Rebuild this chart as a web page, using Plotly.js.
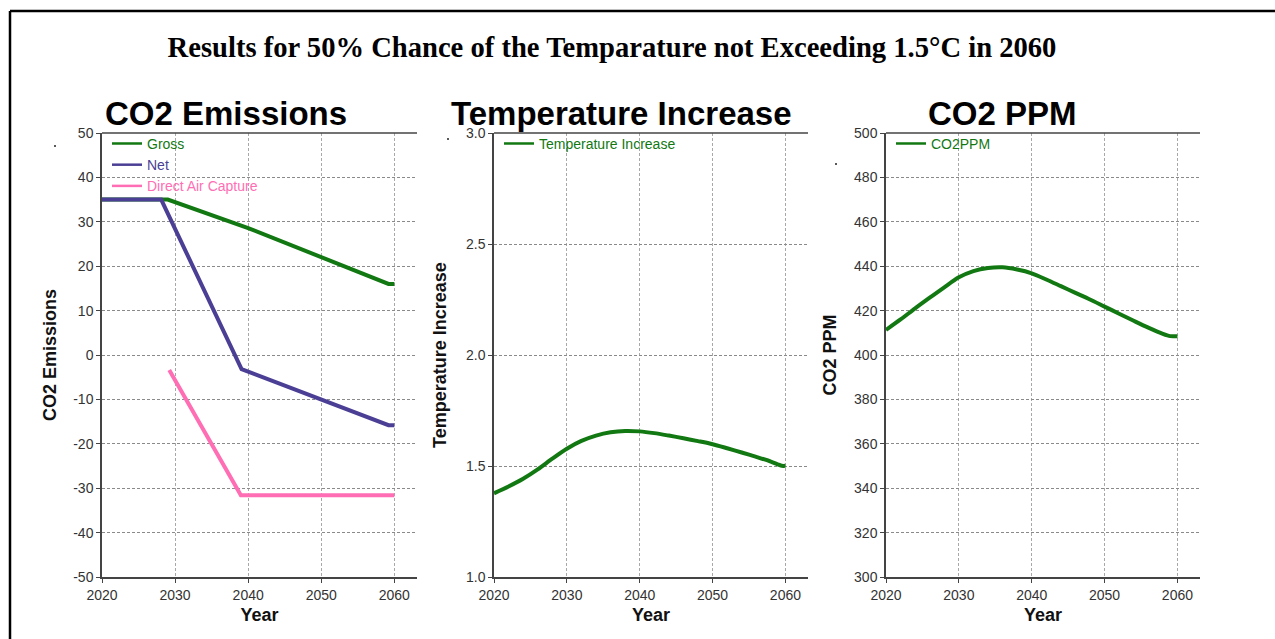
<!DOCTYPE html>
<html>
<head>
<meta charset="utf-8">
<script src="https://cdn.plot.ly/plotly-3.0.1.min.js"></script>
<style>html,body{margin:0;padding:0;background:#fff;}#chart{width:1275px;height:639px;}</style>
</head>
<body>
<div id="chart"></div>
<script>
// ---- Data ----
const mainTitle = "Results for 50% Chance of the Temparature not Exceeding 1.5°C in 2060";
const panelTitles = ["CO2 Emissions", "Temperature Increase", "CO2 PPM"];
const yAxisTitles = ["CO2 Emissions", "Temperature Increase", "CO2 PPM"];
const xAxisTitle = "Year";
const xTickValues = [2020, 2030, 2040, 2050, 2060];
const xTickLabels = ["2020", "2030", "2040", "2050", "2060"];

const grossYears  = [2020, 2029, 2040, 2059.2, 2060];
const grossValues = [35, 35, 28.6, 16, 16];
const netYears    = [2020, 2028.1, 2039.1, 2059.2, 2060];
const netValues   = [35, 35, -3.2, -15.8, -15.8];
const dacYears    = [2029.2, 2039, 2060];
const dacValues   = [-3.4, -31.6, -31.6];

const tempYears  = [2020, 2022, 2024, 2026, 2028, 2030, 2032, 2034, 2036, 2038, 2040, 2042, 2044, 2046, 2048, 2050, 2052, 2054, 2056, 2058, 2059.5, 2060];
const tempValues = [1.377, 1.408, 1.443, 1.485, 1.533, 1.578, 1.613, 1.637, 1.652, 1.658, 1.656, 1.648, 1.637, 1.625, 1.612, 1.598, 1.58, 1.561, 1.541, 1.52, 1.501, 1.501];

const ppmYears  = [2020, 2022, 2024, 2026, 2028, 2030, 2032, 2034, 2036, 2038, 2040, 2042, 2044, 2046, 2048, 2050, 2052, 2054, 2056, 2058, 2059, 2060];
const ppmValues = [411.3, 416, 421, 425.8, 430.5, 435, 437.8, 439.2, 439.5, 438.5, 436.8, 434, 431, 428, 425, 421.8, 418.6, 415.4, 412.3, 409.5, 408.5, 408.5];

const seriesNames = ["Gross", "Net", "Direct Air Capture", "Temperature Increase", "CO2PPM"];
const emisTicks = [-50, -40, -30, -20, -10, 0, 10, 20, 30, 40, 50];
const emisTickLabels = ["-50", "-40", "-30", "-20", "-10", "0", "10", "20", "30", "40", "50"];
const tempTicks = [1.0, 1.5, 2.0, 2.5, 3.0];
const tempTickLabels = ["1.0", "1.5", "2.0", "2.5", "3.0"];
const ppmTicks  = [300, 320, 340, 360, 380, 400, 420, 440, 460, 480, 500];
const ppmTickLabels = ["300", "320", "340", "360", "380", "400", "420", "440", "460", "480", "500"];

// ---- Styling ----
const GREEN = "#127812", PURPLE = "#4a3f94", PINK = "#ff6eb4";
const W = 1275, H = 639;
const px = v => v / W, py = v => 1 - v / H;
const FONT = "Arial, 'Liberation Sans', sans-serif";

function line(x, y, color, xa, ya, shape) {
  return {x: x, y: y, type: "scatter", mode: "lines", xaxis: xa, yaxis: ya,
          line: {color: color, width: 4, shape: shape || "linear", smoothing: 0.8},
          showlegend: false, hoverinfo: "x+y"};
}
function legendItem(name, color, xa, ya, leg) {
  return {x: [null], y: [null], type: "scatter", mode: "lines", xaxis: xa, yaxis: ya,
          name: '<span style="color:' + color + '">' + name + '</span>',
          line: {color: color, width: 2.5}, showlegend: true, legend: leg};
}

const traces = [
  line(grossYears, grossValues, GREEN, "x", "y"),
  line(netYears, netValues, PURPLE, "x", "y"),
  line(dacYears, dacValues, PINK, "x", "y"),
  line(tempYears, tempValues, GREEN, "x2", "y2", "spline"),
  line(ppmYears, ppmValues, GREEN, "x3", "y3", "spline"),
  legendItem(seriesNames[0], GREEN, "x", "y", "legend"),
  legendItem(seriesNames[1], PURPLE, "x", "y", "legend"),
  legendItem(seriesNames[2], PINK, "x", "y", "legend"),
  legendItem(seriesNames[3], GREEN, "x2", "y2", "legend2"),
  legendItem(seriesNames[4], GREEN, "x3", "y3", "legend3")
];

const domainsX = [[px(102), px(417)], [px(494), px(808)], [px(886), px(1200)]];
const domainY = [py(577), py(133)];
const xRange = [2020, 2063.1];
const TICKFONT = {family: FONT, size: 14, color: "#333"};
const TITLEFONT = {family: FONT, size: 18, color: "#111", weight: "bold"};

function xaxis(i, anchor) {
  return {domain: domainsX[i], anchor: anchor, range: xRange, tickvals: xTickValues, ticktext: xTickLabels,
    showline: true, linecolor: "#444", linewidth: 1.5, ticks: "outside", ticklen: 4, tickcolor: "#444",
    showgrid: true, gridcolor: "#a8a8a8", griddash: "3px,2px", gridwidth: 1, zeroline: false,
    tickfont: TICKFONT, title: {text: xAxisTitle, font: TITLEFONT, standoff: 7}};
}
function yaxis(i, anchor, range, ticks, labels, standoff) {
  return {domain: domainY, anchor: anchor, range: range, tickvals: ticks, ticktext: labels,
    showline: true, linecolor: "#444", linewidth: 1.5, ticks: "outside", ticklen: 4, tickcolor: "#444",
    showgrid: true, gridcolor: "#8a8a8a", griddash: "3px,2px", gridwidth: 1, zeroline: false,
    tickfont: TICKFONT, title: {text: yAxisTitles[i], font: TITLEFONT, standoff: standoff}};
}

function legendCfg(i) {
  return {x: domainsX[i][0] + px(5), y: domainY[1] + 0.008, xanchor: "left", yanchor: "top",
    bgcolor: "rgba(0,0,0,0)", borderwidth: 0, font: {family: FONT, size: 14}, itemwidth: 30, tracegroupgap: 0};
}

const shapes = [
  {type: "line", xref: "paper", yref: "paper", x0: px(10), x1: 1, y0: py(11), y1: py(11), line: {color: "#000", width: 2.5}},
  {type: "line", xref: "paper", yref: "paper", x0: px(10), x1: px(10), y0: py(11), y1: 0, line: {color: "#000", width: 2.5}}
];
["x", "x2", "x3"].forEach((xa, i) => {
  const ya = ["y", "y2", "y3"][i];
  shapes.push({type: "line", xref: xa + " domain", yref: ya + " domain", x0: 0, x1: 1, y0: 1, y1: 1,
               line: {color: "#444", width: 1.5}});
});
// small stray dots seen in the reference
[[55, 146], [448, 139], [836, 164]].forEach(p => {
  shapes.push({type: "circle", xref: "paper", yref: "paper", x0: px(p[0] - 1), x1: px(p[0] + 1),
               y0: py(p[1] + 1), y1: py(p[1] - 1), fillcolor: "#222", line: {width: 0}});
});

const panelTitleX = [226, 621, 1002];
const annotations = panelTitles.map((t, i) => ({
  text: t, xref: "paper", yref: "paper", x: px(panelTitleX[i]), y: py(113),
  xanchor: "center", yanchor: "middle", showarrow: false,
  font: {family: FONT, size: 33, color: "#000", weight: "bold"}
}));

const layout = {
  width: W, height: H, margin: {l: 0, r: 0, t: 0, b: 0},
  paper_bgcolor: "#fff", plot_bgcolor: "#fff",
  title: {text: mainTitle, x: px(612), xanchor: "center", y: py(47), yanchor: "middle",
          font: {family: "'Liberation Serif', 'Times New Roman', serif", size: 28.6, color: "#000", weight: "bold"}},
  xaxis: xaxis(0, "y"), xaxis2: xaxis(1, "y2"), xaxis3: xaxis(2, "y3"),
  yaxis: yaxis(0, "x", [-50, 50], emisTicks, emisTickLabels, 12),
  yaxis2: yaxis(1, "x2", [1.0, 3.0], tempTicks, tempTickLabels, 15),
  yaxis3: yaxis(2, "x3", [300, 500], ppmTicks, ppmTickLabels, 13),
  legend: legendCfg(0), legend2: legendCfg(1), legend3: legendCfg(2),
  shapes: shapes, annotations: annotations, showlegend: true
};

Plotly.newPlot("chart", traces, layout, {displayModeBar: false});
</script>
</body>
</html>
